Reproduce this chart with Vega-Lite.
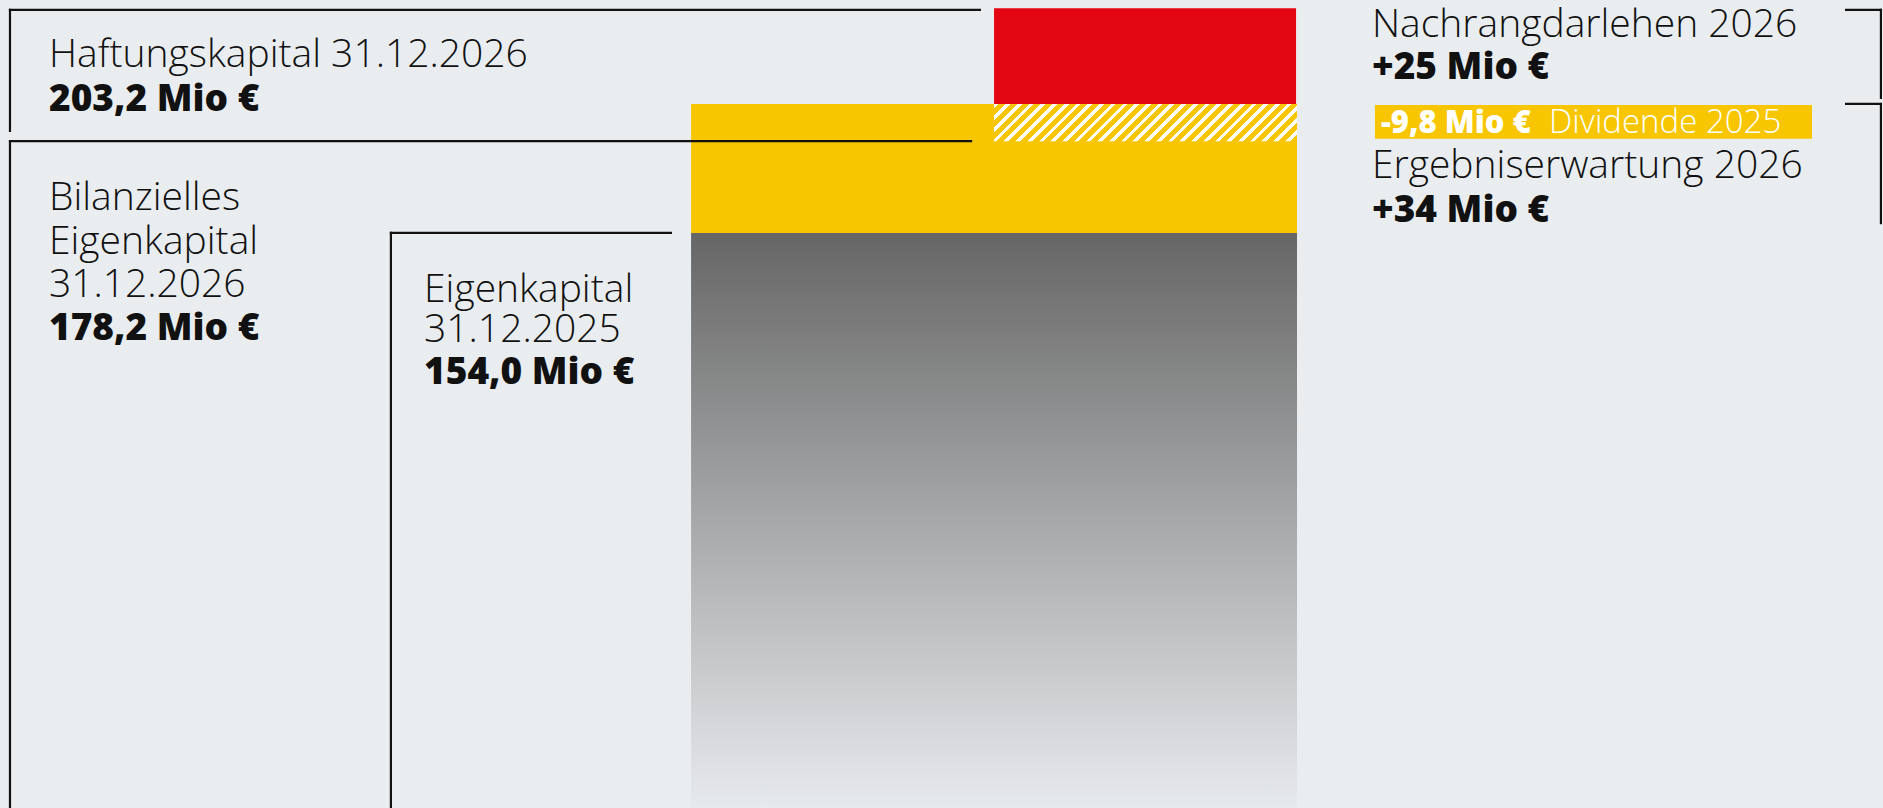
{
  "$schema": "https://vega.github.io/schema/vega-lite/v6.json",
  "width": 1883,
  "height": 808,
  "autosize": {"type": "fit", "contains": "padding"},
  "padding": 0,
  "background": "#e9edf0",
  "config": {"view": {"stroke": null}},
  "encoding": {
    "x": {"field": "x", "type": "quantitative", "scale": {"domain": [0, 100], "nice": false, "zero": false}, "axis": null},
    "y": {"field": "y", "type": "quantitative", "scale": {"domain": [2.45, 215.4], "nice": false, "zero": false}, "axis": null}
  },
  "layer": [
    {
      "data": {"values": [{"part": "Eigenkapital 31.12.2025", "x": 36.70, "x2": 68.88, "y": 0, "y2": 154.0}]},
      "mark": {"type": "rect", "clip": true, "fill": {"gradient": "linear", "x1": 0, "y1": 0, "x2": 0, "y2": 1, "stops": [{"offset": 0, "color": "#666666"}, {"offset": 1, "color": "#e9ecef"}]}},
      "encoding": {"x2": {"field": "x2"}, "y2": {"field": "y2"}}
    },
    {
      "data": {"values": [{"part": "Ergebniserwartung 2026", "x": 36.70, "x2": 68.88, "y": 154.0, "y2": 188.0}]},
      "mark": {"type": "rect", "fill": "#f7c600"},
      "encoding": {"x2": {"field": "x2"}, "y2": {"field": "y2"}}
    },
    {
      "data": {"values": [{"part": "Nachrangdarlehen 2026", "x": 52.79, "x2": 68.83, "y": 188.0, "y2": 213.2}]},
      "mark": {"type": "rect", "fill": "#e30613"},
      "encoding": {"x2": {"field": "x2"}, "y2": {"field": "y2"}}
    },
    {
      "data": {"values": [{"part": "Dividende 2025", "x": 52.79, "x2": 68.88, "y": 178.2, "y2": 188.0}]},
      "mark": {"type": "rect", "fill": {"gradient": "linear", "x1": 0, "y1": 0, "x2": 1.1061, "y2": 0.1358, "stops": [
        {"offset": 0, "color": "#ffffff"}, {"offset": 0.0138, "color": "#ffffff"}, {"offset": 0.0138, "color": "#f7c600"}, {"offset": 0.0345, "color": "#f7c600"},
        {"offset": 0.0345, "color": "#ffffff"}, {"offset": 0.0483, "color": "#ffffff"}, {"offset": 0.0483, "color": "#f7c600"}, {"offset": 0.0690, "color": "#f7c600"},
        {"offset": 0.0690, "color": "#ffffff"}, {"offset": 0.0828, "color": "#ffffff"}, {"offset": 0.0828, "color": "#f7c600"}, {"offset": 0.1034, "color": "#f7c600"},
        {"offset": 0.1034, "color": "#ffffff"}, {"offset": 0.1172, "color": "#ffffff"}, {"offset": 0.1172, "color": "#f7c600"}, {"offset": 0.1379, "color": "#f7c600"},
        {"offset": 0.1379, "color": "#ffffff"}, {"offset": 0.1517, "color": "#ffffff"}, {"offset": 0.1517, "color": "#f7c600"}, {"offset": 0.1724, "color": "#f7c600"},
        {"offset": 0.1724, "color": "#ffffff"}, {"offset": 0.1862, "color": "#ffffff"}, {"offset": 0.1862, "color": "#f7c600"}, {"offset": 0.2069, "color": "#f7c600"},
        {"offset": 0.2069, "color": "#ffffff"}, {"offset": 0.2207, "color": "#ffffff"}, {"offset": 0.2207, "color": "#f7c600"}, {"offset": 0.2414, "color": "#f7c600"},
        {"offset": 0.2414, "color": "#ffffff"}, {"offset": 0.2552, "color": "#ffffff"}, {"offset": 0.2552, "color": "#f7c600"}, {"offset": 0.2759, "color": "#f7c600"},
        {"offset": 0.2759, "color": "#ffffff"}, {"offset": 0.2897, "color": "#ffffff"}, {"offset": 0.2897, "color": "#f7c600"}, {"offset": 0.3103, "color": "#f7c600"},
        {"offset": 0.3103, "color": "#ffffff"}, {"offset": 0.3241, "color": "#ffffff"}, {"offset": 0.3241, "color": "#f7c600"}, {"offset": 0.3448, "color": "#f7c600"},
        {"offset": 0.3448, "color": "#ffffff"}, {"offset": 0.3586, "color": "#ffffff"}, {"offset": 0.3586, "color": "#f7c600"}, {"offset": 0.3793, "color": "#f7c600"},
        {"offset": 0.3793, "color": "#ffffff"}, {"offset": 0.3931, "color": "#ffffff"}, {"offset": 0.3931, "color": "#f7c600"}, {"offset": 0.4138, "color": "#f7c600"},
        {"offset": 0.4138, "color": "#ffffff"}, {"offset": 0.4276, "color": "#ffffff"}, {"offset": 0.4276, "color": "#f7c600"}, {"offset": 0.4483, "color": "#f7c600"},
        {"offset": 0.4483, "color": "#ffffff"}, {"offset": 0.4621, "color": "#ffffff"}, {"offset": 0.4621, "color": "#f7c600"}, {"offset": 0.4828, "color": "#f7c600"},
        {"offset": 0.4828, "color": "#ffffff"}, {"offset": 0.4966, "color": "#ffffff"}, {"offset": 0.4966, "color": "#f7c600"}, {"offset": 0.5172, "color": "#f7c600"},
        {"offset": 0.5172, "color": "#ffffff"}, {"offset": 0.5310, "color": "#ffffff"}, {"offset": 0.5310, "color": "#f7c600"}, {"offset": 0.5517, "color": "#f7c600"},
        {"offset": 0.5517, "color": "#ffffff"}, {"offset": 0.5655, "color": "#ffffff"}, {"offset": 0.5655, "color": "#f7c600"}, {"offset": 0.5862, "color": "#f7c600"},
        {"offset": 0.5862, "color": "#ffffff"}, {"offset": 0.6000, "color": "#ffffff"}, {"offset": 0.6000, "color": "#f7c600"}, {"offset": 0.6207, "color": "#f7c600"},
        {"offset": 0.6207, "color": "#ffffff"}, {"offset": 0.6345, "color": "#ffffff"}, {"offset": 0.6345, "color": "#f7c600"}, {"offset": 0.6552, "color": "#f7c600"},
        {"offset": 0.6552, "color": "#ffffff"}, {"offset": 0.6690, "color": "#ffffff"}, {"offset": 0.6690, "color": "#f7c600"}, {"offset": 0.6897, "color": "#f7c600"},
        {"offset": 0.6897, "color": "#ffffff"}, {"offset": 0.7035, "color": "#ffffff"}, {"offset": 0.7035, "color": "#f7c600"}, {"offset": 0.7241, "color": "#f7c600"},
        {"offset": 0.7241, "color": "#ffffff"}, {"offset": 0.7379, "color": "#ffffff"}, {"offset": 0.7379, "color": "#f7c600"}, {"offset": 0.7586, "color": "#f7c600"},
        {"offset": 0.7586, "color": "#ffffff"}, {"offset": 0.7724, "color": "#ffffff"}, {"offset": 0.7724, "color": "#f7c600"}, {"offset": 0.7931, "color": "#f7c600"},
        {"offset": 0.7931, "color": "#ffffff"}, {"offset": 0.8069, "color": "#ffffff"}, {"offset": 0.8069, "color": "#f7c600"}, {"offset": 0.8276, "color": "#f7c600"},
        {"offset": 0.8276, "color": "#ffffff"}, {"offset": 0.8414, "color": "#ffffff"}, {"offset": 0.8414, "color": "#f7c600"}, {"offset": 0.8621, "color": "#f7c600"},
        {"offset": 0.8621, "color": "#ffffff"}, {"offset": 0.8759, "color": "#ffffff"}, {"offset": 0.8759, "color": "#f7c600"}, {"offset": 0.8966, "color": "#f7c600"},
        {"offset": 0.8966, "color": "#ffffff"}, {"offset": 0.9104, "color": "#ffffff"}, {"offset": 0.9104, "color": "#f7c600"}, {"offset": 0.9310, "color": "#f7c600"},
        {"offset": 0.9310, "color": "#ffffff"}, {"offset": 0.9448, "color": "#ffffff"}, {"offset": 0.9448, "color": "#f7c600"}, {"offset": 0.9655, "color": "#f7c600"},
        {"offset": 0.9655, "color": "#ffffff"}, {"offset": 0.9793, "color": "#ffffff"}, {"offset": 0.9793, "color": "#f7c600"}, {"offset": 1, "color": "#f7c600"}
      ]}},
      "encoding": {"x2": {"field": "x2"}, "y2": {"field": "y2"}}
    },
    {
      "data": {"values": [{"part": "Label Dividende", "x": 73.02, "x2": 96.23, "y": 178.8, "y2": 187.7}]},
      "mark": {"type": "rect", "fill": "#f7c600"},
      "encoding": {"x2": {"field": "x2"}, "y2": {"field": "y2"}}
    },
    {
      "data": {"values": [
        {"x": 0.53, "x2": 52.04, "y": 212.8, "y2": 212.8},
        {"x": 0.53, "x2": 0.53, "y": 212.8, "y2": 180.9},
        {"x": 0.53, "x2": 51.57, "y": 178.2, "y2": 178.2},
        {"x": 0.53, "x2": 0.53, "y": 178.2, "y2": 0},
        {"x": 20.76, "x2": 35.63, "y": 154.0, "y2": 154.0},
        {"x": 20.76, "x2": 20.76, "y": 154.0, "y2": 0},
        {"x": 98.04, "x2": 99.89, "y": 212.8, "y2": 212.8},
        {"x": 99.89, "x2": 99.89, "y": 212.8, "y2": 189.6},
        {"x": 98.04, "x2": 99.89, "y": 188.0, "y2": 188.0},
        {"x": 99.89, "x2": 99.89, "y": 188.0, "y2": 156.6}
      ]},
      "mark": {"type": "rule", "clip": true, "color": "#111111", "strokeWidth": 2.2, "strokeCap": "square"},
      "encoding": {"x2": {"field": "x2"}, "y2": {"field": "y2"}}
    },
    {
      "data": {"values": [
        {"t": "Haftungskapital 31.12.2026", "x": 2.60, "y": 197.8},
        {"t": "Bilanzielles", "x": 2.60, "y": 160.1},
        {"t": "Eigenkapital", "x": 2.60, "y": 148.5},
        {"t": "31.12.2026", "x": 2.60, "y": 137.1},
        {"t": "Eigenkapital", "x": 22.52, "y": 135.8},
        {"t": "31.12.2025", "x": 22.52, "y": 125.3},
        {"t": "Nachrangdarlehen 2026", "x": 72.86, "y": 205.7},
        {"t": "Ergebniserwartung 2026", "x": 72.86, "y": 168.5}
      ]},
      "mark": {"type": "text", "align": "left", "baseline": "alphabetic", "font": "Open Sans", "fontWeight": 300, "fontSize": 39, "color": "#111111"},
      "encoding": {"text": {"field": "t"}}
    },
    {
      "data": {"values": [
        {"t": "203,2 Mio €", "x": 2.60, "y": 186.2},
        {"t": "178,2 Mio €", "x": 2.60, "y": 125.9},
        {"t": "154,0 Mio €", "x": 22.52, "y": 114.2},
        {"t": "+25 Mio €", "x": 72.86, "y": 194.6},
        {"t": "+34 Mio €", "x": 72.86, "y": 157.0}
      ]},
      "mark": {"type": "text", "align": "left", "baseline": "alphabetic", "font": "Open Sans", "fontWeight": 800, "fontSize": 37, "color": "#111111"},
      "encoding": {"text": {"field": "t"}}
    },
    {
      "data": {"values": [{"t": "-9,8 Mio €", "x": 73.34, "y": 180.3}]},
      "mark": {"type": "text", "align": "left", "baseline": "alphabetic", "font": "Open Sans", "fontWeight": 800, "fontSize": 31, "color": "#ffffff"},
      "encoding": {"text": {"field": "t"}}
    },
    {
      "data": {"values": [{"t": "Dividende 2025", "x": 82.26, "y": 180.3}]},
      "mark": {"type": "text", "align": "left", "baseline": "alphabetic", "font": "Open Sans", "fontWeight": 300, "fontSize": 33, "color": "#ffffff"},
      "encoding": {"text": {"field": "t"}}
    }
  ]
}
